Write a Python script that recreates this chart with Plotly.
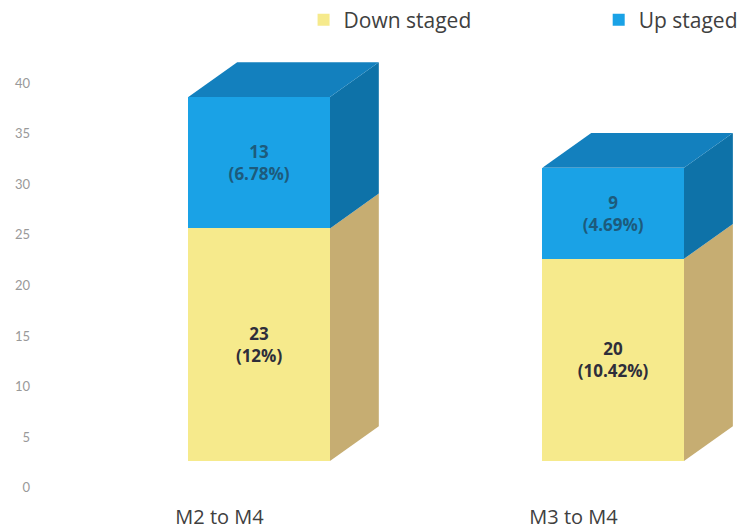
import plotly.graph_objects as go

categories = ["M2 to M4", "M3 to M4"]
down_staged = [23, 20]
up_staged = [13, 9]
down_pct = ["12%", "10.42%"]
up_pct = ["6.78%", "4.69%"]
y_ticks = [0, 5, 10, 15, 20, 25, 30, 35, 40]

# style constants
BAR_OFFSET = -0.088
BAR_WIDTH = 0.40
DEPTH_X = 0.138
DEPTH_Y = 3.45
Y_SHIFT = 2.64

FRONT = {"down": "#F6EA8C", "up": "#1AA2E6"}
SIDE = {"down": "#C6AD72", "up": "#0E72A8"}
TOP = {"down": "#D8C27A", "up": "#1380BE"}

xpos = list(range(len(categories)))

fig = go.Figure()
# invisible trace keeps the value axis (y) drawn
fig.add_trace(go.Scatter(x=[None], y=[None], yaxis="y", showlegend=False,
                         hoverinfo="skip"))
fig.add_trace(go.Bar(
    x=xpos, y=down_staged, name="Down staged", yaxis="y2", legend="legend",
    offset=BAR_OFFSET, width=BAR_WIDTH,
    marker=dict(color=FRONT["down"], line=dict(width=0)),
    text=[f"<b>{v}<br>({p})</b>" for v, p in zip(down_staged, down_pct)],
    textposition="inside", insidetextanchor="middle", textangle=0,
    textfont=dict(family="Open Sans", size=17, color="#2E2E3A"),
))
fig.add_trace(go.Bar(
    x=xpos, y=up_staged, name="Up staged", yaxis="y2", legend="legend2",
    offset=BAR_OFFSET, width=BAR_WIDTH,
    marker=dict(color=FRONT["up"], line=dict(width=0)),
    text=[f"<b>{v}<br>({p})</b>" for v, p in zip(up_staged, up_pct)],
    textposition="inside", insidetextanchor="middle", textangle=0,
    textfont=dict(family="Open Sans", size=17, color="#1D5B7C"),
))

shapes = []
for i, x in enumerate(xpos):
    x0 = x + BAR_OFFSET
    x1 = x0 + BAR_WIDTH
    segs = [("down", 0, down_staged[i]), ("up", down_staged[i], down_staged[i] + up_staged[i])]
    for key, b, t in segs:
        path = (f"M{x1},{b} L{x1 + DEPTH_X},{b + DEPTH_Y} "
                f"L{x1 + DEPTH_X},{t + DEPTH_Y} L{x1},{t} Z")
        shapes.append(dict(type="path", path=path, xref="x", yref="y2",
                           fillcolor=SIDE[key], line=dict(width=0), layer="below"))
    top = down_staged[i] + up_staged[i]
    path = (f"M{x0},{top} L{x0 + DEPTH_X},{top + DEPTH_Y} "
            f"L{x1 + DEPTH_X},{top + DEPTH_Y} L{x1},{top} Z")
    shapes.append(dict(type="path", path=path, xref="x", yref="y2",
                       fillcolor=TOP["up"], line=dict(width=0), layer="below"))

ymin, ymax = -0.722, 44.28
legend_font = dict(family="Open Sans", size=21, color="#404040")

fig.update_layout(
    width=741, height=531,
    margin=dict(l=40, r=0, t=40, b=36, autoexpand=False),
    paper_bgcolor="white", plot_bgcolor="white",
    barmode="stack",
    showlegend=True,
    legend=dict(orientation="h", x=0.376, xanchor="left", y=1.044, yanchor="middle",
                font=legend_font, bgcolor="rgba(0,0,0,0)"),
    legend2=dict(orientation="h", x=0.797, xanchor="left", y=1.044, yanchor="middle",
                 font=legend_font, bgcolor="rgba(0,0,0,0)"),
    xaxis=dict(range=[-0.507, 1.473], tickvals=xpos, ticktext=categories,
               showgrid=False, zeroline=False, showline=False, ticks="",
               ticklabelstandoff=8,
               tickfont=dict(family="Open Sans", size=20, color="#404040")),
    yaxis=dict(range=[ymin, ymax], tickvals=y_ticks, showgrid=False, zeroline=False,
               showline=False, ticks="", ticklabelstandoff=9,
               tickfont=dict(family="Lato", size=13, color="#999999")),
    yaxis2=dict(range=[ymin - Y_SHIFT, ymax - Y_SHIFT], overlaying="y", visible=False),
    shapes=shapes,
)

fig.write_html("out.html")
